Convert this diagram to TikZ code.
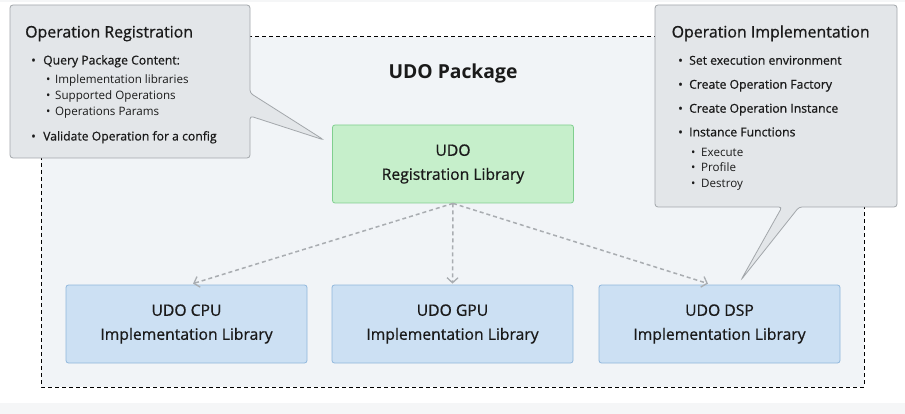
\documentclass[tikz,border=0pt]{standalone}
\usepackage{fontspec}
\setmainfont{Open Sans}
\newfontfamily\medfont[FakeBold=0.7]{Open Sans}
\usetikzlibrary{arrows.meta,calc}
\definecolor{pagegray}{HTML}{F5F6F7}
\definecolor{pkgfill}{HTML}{F1F4F7}
\definecolor{greenfill}{HTML}{C6EFCB}
\definecolor{greenline}{HTML}{80CF8F}
\definecolor{bluefill}{HTML}{CCE0F3}
\definecolor{blueline}{HTML}{90B7DC}
\definecolor{callfill}{HTML}{E3E6E9}
\definecolor{callline}{HTML}{A3A7AB}
\definecolor{arrgray}{HTML}{A9ADB1}
\definecolor{txt}{HTML}{1A1A1A}
\tikzset{
  libbox/.style={draw, line width=0.8pt, rounded corners=2.5pt, minimum width=241pt, minimum height=78pt, inner sep=0pt,
    align=center, text=txt, font=\medfont\fontsize{15.7}{24}\selectfont},
  greenbox/.style={libbox, fill=greenfill, draw=greenline},
  bluebox/.style={libbox, fill=bluefill, draw=blueline},
  callout/.style={fill=callfill, draw=callline, line width=0.8pt, rounded corners=3pt},
  ctitle/.style={anchor=base west, inner sep=0pt, text=txt, font=\medfont\fontsize{15.9}{18}\selectfont},
  citem/.style={anchor=base west, inner sep=0pt, text=txt, font=\medfont\fontsize{12.2}{15}\selectfont},
  csub/.style={anchor=base west, inner sep=0pt, text=txt, font=\fontsize{11.6}{14}\selectfont},
  depend/.style={draw=arrgray, line width=1.5pt, dash pattern=on 4pt off 3pt,
    -{Straight Barb[length=5pt,width=11pt,line width=1.3pt]}},
}
\begin{document}
\begin{tikzpicture}[x=1pt,y=-1pt]
  \useasboundingbox (0,0) rectangle (905,414);
  \fill[white] (0,0) rectangle (905,414);
  \fill[pagegray] (0,0) rectangle (905,2);
  \fill[pagegray] (0,403) rectangle (905,414);
  % package container
  \draw[fill=pkgfill, line width=1pt, dash pattern=on 4pt off 3pt] (41,37) rectangle (864,387);
  \node[inner sep=0pt, text=txt, font=\bfseries\fontsize{19.3}{22}\selectfont] (pkg) at (453,73) {UDO Package};
  % libraries
  \node[greenbox] (reg) at (453,164) {UDO\\Registration Library};
  \node[bluebox] (cpu) at (186.5,324) {UDO CPU\\Implementation Library};
  \node[bluebox] (gpu) at (452.5,324) {UDO GPU\\Implementation Library};
  \node[bluebox] (dsp) at (719.5,324) {UDO DSP\\Implementation Library};
  \draw[depend] (reg.south) -- ([xshift=6.5pt,yshift=1pt]cpu.north);
  \draw[depend] (reg.south) -- ([yshift=1pt]gpu.north);
  \draw[depend] (reg.south) -- ([xshift=-11.5pt,yshift=1pt]dsp.north);
  % left callout
  \draw[callout] (10,5) -- (250,5) -- (250,93) -- (324,140) -- (250,116) -- (250,158) -- (10,158) -- cycle;
  \node[ctitle] (lt) at (25,37.5) {Operation Registration};
  \node[citem] (l1) at (31,64.5) {\makebox[12pt][l]{•}Query Package Content:};
  \node[csub] (l1a) at (46,84) {\makebox[9pt][l]{•}Implementation libraries};
  \node[csub] (l1b) at (46,100) {\makebox[9pt][l]{•}Supported Operations};
  \node[csub] (l1c) at (46,115.7) {\makebox[9pt][l]{•}Operations Params};
  \node[citem] (l2) at (31,140.5) {\makebox[12pt][l]{•}Validate Operation for a config};
  % right callout
  \draw[callout] (655,5) -- (897,5) -- (897,207) -- (799,207) -- (741,280) -- (782,207) -- (655,207) -- cycle;
  \node[ctitle] (rt) at (671.5,37.5) {Operation Implementation};
  \node[citem] (r1) at (678,64.7) {\makebox[11pt][l]{•}Set execution environment};
  \node[citem] (r2) at (678,88.7) {\makebox[11pt][l]{•}Create Operation Factory};
  \node[citem] (r3) at (678,112.7) {\makebox[11pt][l]{•}Create Operation Instance};
  \node[citem] (r4) at (678,136.4) {\makebox[11pt][l]{•}Instance Functions};
  \node[csub] (r4a) at (691,156.5) {\makebox[10pt][l]{•}Execute};
  \node[csub] (r4b) at (691,172) {\makebox[10pt][l]{•}Profile};
  \node[csub] (r4c) at (691,187.5) {\makebox[10pt][l]{•}Destroy};
\end{tikzpicture}
\end{document}
